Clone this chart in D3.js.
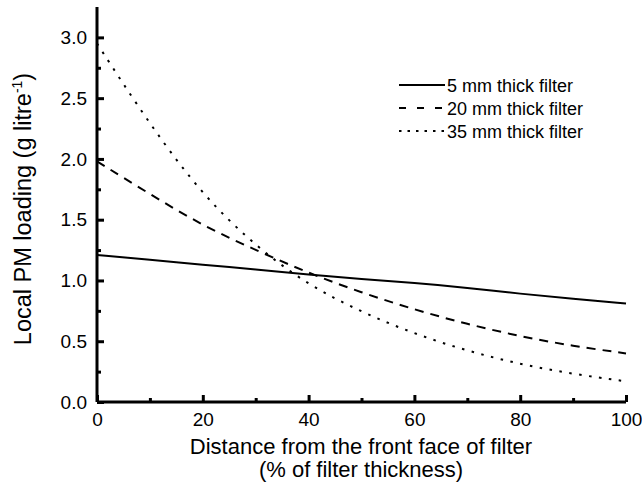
<!DOCTYPE html>
<html><head><meta charset="utf-8">
<script src="https://cdn.jsdelivr.net/npm/d3@7"></script>
<style>body{margin:0;background:#fff}svg{display:block}text{font-family:"Liberation Sans",Arial,sans-serif;fill:#000}</style>
</head><body><svg id="c" width="642" height="485"></svg>
<script>
const xs = [0,10,20,30,40,50,60,70,80,90,100];
const s5  = [1.21,1.17,1.13,1.09,1.05,1.01,0.98,0.94,0.89,0.85,0.81];
const s20 = [1.98,1.71,1.45,1.25,1.06,0.90,0.76,0.64,0.54,0.46,0.40];
const s35 = [2.95,2.28,1.70,1.28,0.96,0.74,0.56,0.42,0.31,0.23,0.17];
const seriesNames = ["5 mm thick filter","20 mm thick filter","35 mm thick filter"];
const xTicks = [0,20,40,60,80,100];
const yTicks = [0,0.5,1.0,1.5,2.0,2.5,3.0];

const svg = d3.select("#c");
const x = d3.scaleLinear().domain([0,100]).range([97,626]);
const y = d3.scaleLinear().domain([0,3.25]).range([402,7]);

const series = [s5,s20,s35];
const dashes = [null,"9,7","2.5,7.5"];
const legDashes = [null,"7,11","2.5,6"];
const line = d3.line().x((d,i)=>x(xs[i])).y(d=>y(d)).curve(d3.curveBasis);
series.forEach((s,k)=>{
  svg.append("path").attr("d",line(s)).attr("fill","none").attr("stroke","#000")
    .attr("stroke-width",2).attr("stroke-dasharray",dashes[k]);
});

// axes
const ax = svg.append("g").attr("transform","translate(0,402)");
ax.call(d3.axisBottom(x).tickValues(xTicks).tickSize(-7).tickPadding(11).tickFormat(d3.format("d")));
const axm = svg.append("g").attr("transform","translate(0,402)");
axm.call(d3.axisBottom(x).tickValues(d3.range(10,100,20)).tickSize(-4).tickFormat(""));
const ay = svg.append("g").attr("transform","translate(97,0)");
ay.call(d3.axisLeft(y).tickValues(yTicks).tickSize(-7).tickPadding(10).tickFormat(d3.format(".1f")));
const aym = svg.append("g").attr("transform","translate(97,0)");
aym.call(d3.axisLeft(y).tickValues(d3.range(0.25,3.25,0.5)).tickSize(-4).tickFormat(""));
[ax,axm,ay,aym].forEach(g=>{
  g.selectAll(".domain").attr("stroke","#000").attr("stroke-width",3);
  g.selectAll(".tick line").attr("stroke","#000").attr("stroke-width",3);
  g.selectAll(".tick text").style("font-size","19px").attr("font-family","Liberation Sans, Arial, sans-serif");
});
ax.select(".domain").attr("d","M97,0H626");
ay.select(".domain").attr("d","M0,7V402");
axm.select(".domain").remove(); aym.select(".domain").remove();

// titles
svg.append("text").attr("x",361).attr("y",454).attr("text-anchor","middle").style("font-size","22px")
  .text("Distance from the front face of filter");
svg.append("text").attr("x",361).attr("y",477).attr("text-anchor","middle").style("font-size","22px")
  .text("(% of filter thickness)");
const yl = svg.append("text").attr("transform","translate(31,209) rotate(-90)").attr("text-anchor","middle").style("font-size","23.5px");
yl.append("tspan").text("Local PM loading (g litre");
yl.append("tspan").attr("dy",-9).style("font-size","14px").text("-1");
yl.append("tspan").attr("dy",9).text(")");

// legend
const lg = svg.append("g");
seriesNames.forEach((n,k)=>{
  const yy = 85 + k*23;
  lg.append("line").attr("x1",399).attr("x2",445).attr("y1",yy).attr("y2",yy).attr("stroke","#000")
    .attr("stroke-width",2).attr("stroke-dasharray",legDashes[k]);
  lg.append("text").attr("x",447).attr("y",yy+6.5).style("font-size","18px").text(n);
});
</script></body></html>
